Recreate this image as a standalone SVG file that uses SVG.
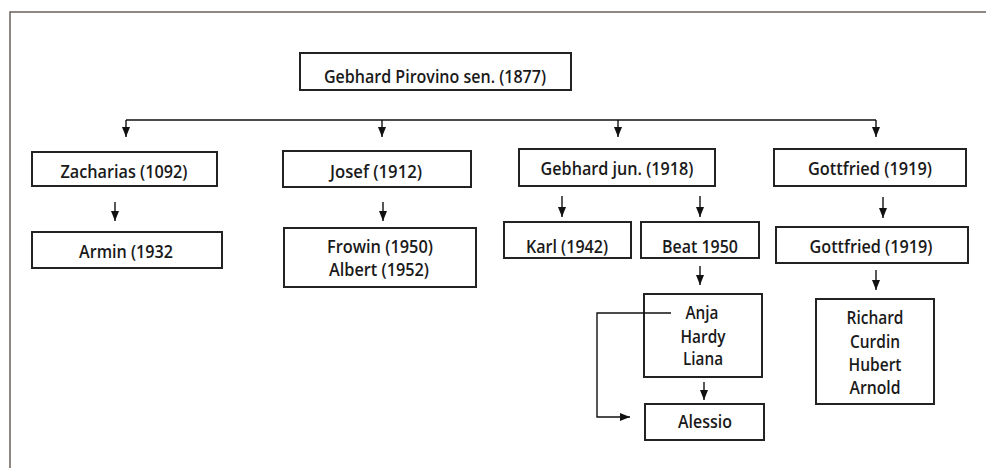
<svg xmlns="http://www.w3.org/2000/svg" width="986" height="468" viewBox="0 0 986 468">
<defs>
<marker id="ah" markerUnits="userSpaceOnUse" markerWidth="10" markerHeight="10" viewBox="0 0 10 10" refX="10" refY="5" orient="auto">
<path d="M0,1 L10,5 L0,9 Z" fill="#111"/>
</marker>
<style>
.box{fill:#fff;stroke:#222;stroke-width:2}
.t{font-family:"Open Sans","Liberation Sans",sans-serif;font-size:18px;font-weight:600;fill:#1a1a1a;text-anchor:middle}
.c{fill:none;stroke:#111;stroke-width:1.4}
.a{fill:none;stroke:#111;stroke-width:1.4;marker-end:url(#ah)}
.frame{fill:none;stroke:#6b6159;stroke-width:1.5}
</style>
</defs>
<rect width="986" height="468" fill="#fff"/>
<path class="frame" d="M10,468 V12 H986"/>

<g id="n-root"><rect class="box" x="300" y="53" width="271" height="37"/><text class="t" x="435" y="83" textLength="222" lengthAdjust="spacingAndGlyphs">Gebhard Pirovino sen. (1877)</text></g>

<g id="n-zacharias"><rect class="box" x="32" y="152" width="185" height="34"/><text class="t" x="124" y="178" textLength="127" lengthAdjust="spacingAndGlyphs">Zacharias (1092)</text></g>
<g id="n-josef"><rect class="box" x="283" y="151" width="188" height="36"/><text class="t" x="376" y="178" textLength="92" lengthAdjust="spacingAndGlyphs">Josef (1912)</text></g>
<g id="n-gebhardjun"><rect class="box" x="519" y="149" width="196" height="37"/><text class="t" x="617" y="175" textLength="153" lengthAdjust="spacingAndGlyphs">Gebhard jun. (1918)</text></g>
<g id="n-gottfried1"><rect class="box" x="774" y="149" width="192" height="37"/><text class="t" x="870" y="175" textLength="124" lengthAdjust="spacingAndGlyphs">Gottfried (1919)</text></g>

<g id="n-armin"><rect class="box" x="32" y="232" width="190" height="36"/><text class="t" x="126" y="258" textLength="94" lengthAdjust="spacingAndGlyphs">Armin (1932</text></g>
<g id="n-frowin"><rect class="box" x="284" y="228" width="192" height="59"/><text class="t" x="380" y="253" textLength="106" lengthAdjust="spacingAndGlyphs">Frowin (1950)</text><text class="t" x="379" y="276" textLength="100" lengthAdjust="spacingAndGlyphs">Albert (1952)</text></g>
<g id="n-karl"><rect class="box" x="504" y="222" width="127" height="36"/><text class="t" x="567" y="253" textLength="82" lengthAdjust="spacingAndGlyphs">Karl (1942)</text></g>
<g id="n-beat"><rect class="box" x="641" y="222" width="118" height="36"/><text class="t" x="700" y="253" textLength="76" lengthAdjust="spacingAndGlyphs">Beat 1950</text></g>
<g id="n-gottfried2"><rect class="box" x="776" y="227" width="192" height="36"/><text class="t" x="871" y="253" textLength="123" lengthAdjust="spacingAndGlyphs">Gottfried (1919)</text></g>

<g id="n-anja"><rect class="box" x="644" y="294" width="118" height="83"/><text class="t" x="702" y="319" textLength="33" lengthAdjust="spacingAndGlyphs">Anja</text><text class="t" x="703" y="343" textLength="45" lengthAdjust="spacingAndGlyphs">Hardy</text><text class="t" x="703" y="365" textLength="40" lengthAdjust="spacingAndGlyphs">Liana</text></g>
<g id="n-richard"><rect class="box" x="816" y="299" width="118" height="105"/><text class="t" x="875" y="324" textLength="57" lengthAdjust="spacingAndGlyphs">Richard</text><text class="t" x="875" y="348" textLength="50" lengthAdjust="spacingAndGlyphs">Curdin</text><text class="t" x="875" y="371" textLength="53" lengthAdjust="spacingAndGlyphs">Hubert</text><text class="t" x="875" y="394" textLength="51" lengthAdjust="spacingAndGlyphs">Arnold</text></g>
<g id="n-alessio"><rect class="box" x="645" y="404" width="119" height="36"/><text class="t" x="705" y="428" textLength="54" lengthAdjust="spacingAndGlyphs">Alessio</text></g>

<g id="connectors">
<path class="c" d="M126,120 H876"/>
<path class="a" d="M126,120 V137"/>
<path class="a" d="M382,120 V137"/>
<path class="a" d="M618,120 V137"/>
<path class="a" d="M876,120 V137"/>
<path class="a" d="M115,202 V221"/>
<path class="a" d="M383,202 V221"/>
<path class="a" d="M562,196 V217"/>
<path class="a" d="M700,196 V217"/>
<path class="a" d="M883,197 V218"/>
<path class="a" d="M700,266 V285"/>
<path class="a" d="M876,270 V290"/>
<path class="a" d="M704,382 V400"/>
<path class="a" d="M671,313 H597 V417 H630"/>
</g>
</svg>
